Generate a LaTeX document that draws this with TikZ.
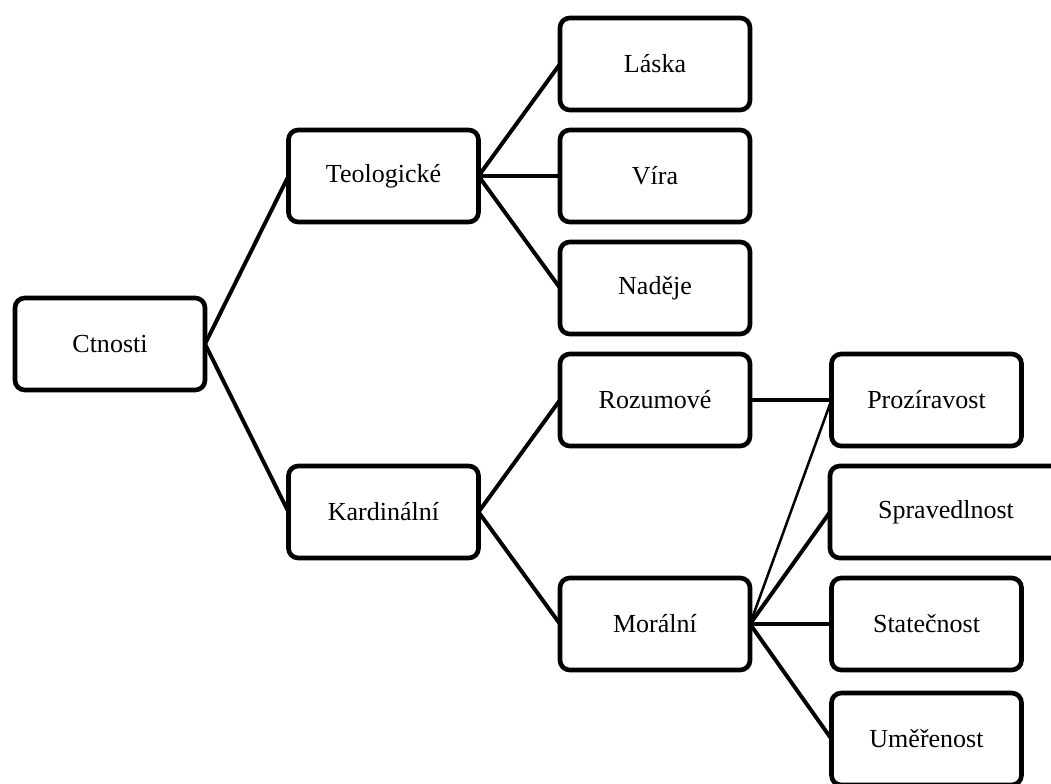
\documentclass[tikz,border=0pt]{standalone}
\usepackage{fontspec}
\setmainfont{Liberation Serif}
\tikzset{
  ctnost/.style={draw, line width=3.3pt, rounded corners=7pt, minimum width=4.75cm,
    minimum height=2.3cm, outer sep=0pt, font=\fontsize{18.5}{21}\selectfont},
  vetev/.style={line width=2.8pt},
  tenka/.style={line width=1.8pt}
}
\begin{document}
\begin{tikzpicture}[x=0.025cm,y=-0.025cm]
      \useasboundingbox (0,0) rectangle (1051,783);
      \node[ctnost] (ctnosti) at (110,344) {Ctnosti};
      \node[ctnost] (teol) at (383.5,176) {Teologické};
      \node[ctnost] (kard) at (383.5,512) {Kardinální};
      \node[ctnost] (laska) at (655,64) {Láska};
      \node[ctnost] (vira) at (655,176) {Víra};
      \node[ctnost] (nadeje) at (655,288) {Naděje};
      \node[ctnost] (rozum) at (655,400) {Rozumové};
      \node[ctnost] (moral) at (655,624) {Morální};
      \node[ctnost] (proz) at (926.5,400) {Prozíravost};
      \node[ctnost, minimum width=5.8cm] (sprav) at (946,512) {Spravedlnost};
      \node[ctnost] (stat) at (926.5,624) {Statečnost};
      \node[ctnost] (umer) at (926.5,739) {Uměřenost};
      \draw[vetev] (ctnosti.east) -- (teol.west);
      \draw[vetev] (ctnosti.east) -- (kard.west);
      \draw[vetev] (teol.east) -- (laska.west);
      \draw[vetev] (teol.east) -- (vira.west);
      \draw[vetev] (teol.east) -- (nadeje.west);
      \draw[vetev] (kard.east) -- (rozum.west);
      \draw[vetev] (kard.east) -- (moral.west);
      \draw[vetev] (rozum.east) -- (proz.west);
      \draw[tenka] (moral.east) -- (proz.west);
      \draw[vetev] (moral.east) -- (sprav.west);
      \draw[vetev] (moral.east) -- (stat.west);
      \draw[vetev] (moral.east) -- (umer.west);
    \end{tikzpicture}
\end{document}
